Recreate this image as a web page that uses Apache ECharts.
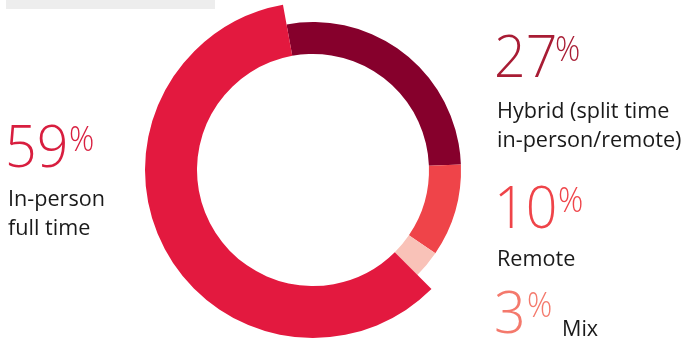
<!DOCTYPE html>
<html>
<head>
<meta charset="utf-8">
<script src="https://cdn.jsdelivr.net/npm/echarts@6/dist/echarts.min.js"></script>
<style>
  html, body { margin: 0; padding: 0; background: #fff; }
  #chart { width: 687px; height: 341px; }
</style>
</head>
<body>
<div id="chart"></div>
<script>
// Work arrangement shares (percent), clockwise from the top
const categories = ['Hybrid (split time\nin-person/remote)', 'Remote', 'Mix', 'In-person\nfull time'];
const shares = [27, 10, 3, 59];
const ringColors = ['#86002C', '#EF4449', '#F9C2B8', '#E3193F'];
const numberColors = ['#A81C34', '#EF4449', '#F4796C', '#D81E3F'];

// Label placement: [x, numberTop, percentX, textTop, inlineText]
const labelLayout = [
  [497, 37, 555, 102, false],
  [497, 188, 558, 250, false],
  [497, 293, 527, 320, true],
  [8, 127, 69, 190, false]
];

const CX = 313, CY = 170;
const numFont = '300 59px "Open Sans", "Noto Sans", sans-serif';
const pctFont = '300 34px "Open Sans", "Noto Sans", sans-serif';
const txtFont = '400 21.6px "Open Sans", "Noto Sans", sans-serif';

const chart = echarts.init(document.getElementById('chart'), null, { renderer: 'canvas' });

const baseData = categories.map((c, i) => ({
  name: c,
  value: shares[i],
  itemStyle: { color: i === 3 ? 'transparent' : ringColors[i] }
}));
// The dominant slice is drawn on a wider ring
const wideData = categories.map((c, i) => ({
  name: c,
  value: shares[i],
  itemStyle: { color: i === 3 ? ringColors[i] : 'transparent' }
}));

const graphics = [
  { type: 'rect', shape: { x: 6, y: 0, width: 209, height: 9 }, style: { fill: '#EDEDED' } }
];
categories.forEach((c, i) => {
  const [x, nTop, px, tTop, inline] = labelLayout[i];
  // big share figure, slightly condensed
  graphics.push({
    type: 'text',
    x: x - 3, y: nTop - 6, scaleX: 0.94,
    style: { x: 0, y: 0, text: String(shares[i]), font: numFont, fill: numberColors[i], textVerticalAlign: 'top' }
  });
  graphics.push({
    type: 'text',
    x: px, y: nTop - 3, scaleX: 0.92,
    style: { x: 0, y: 0, text: '%', font: pctFont, fill: numberColors[i], textVerticalAlign: 'top' }
  });
  graphics.push({
    type: 'text',
    style: {
      x: inline ? 562 : x, y: tTop - 5, text: c, font: txtFont, fill: '#1A1A1A',
      lineHeight: 29, textVerticalAlign: 'top'
    }
  });
});

chart.setOption({
  animation: false,
  series: [
    {
      type: 'pie',
      center: [CX, CY],
      radius: [116, 148],
      startAngle: 100.3,
      clockwise: true,
      silent: true,
      label: { show: false },
      labelLine: { show: false },
      data: baseData
    },
    {
      type: 'pie',
      center: [CX, CY],
      radius: [116, 168],
      startAngle: 100.3,
      clockwise: true,
      silent: true,
      label: { show: false },
      labelLine: { show: false },
      data: wideData
    }
  ],
  graphic: graphics
});
</script>
</body>
</html>
